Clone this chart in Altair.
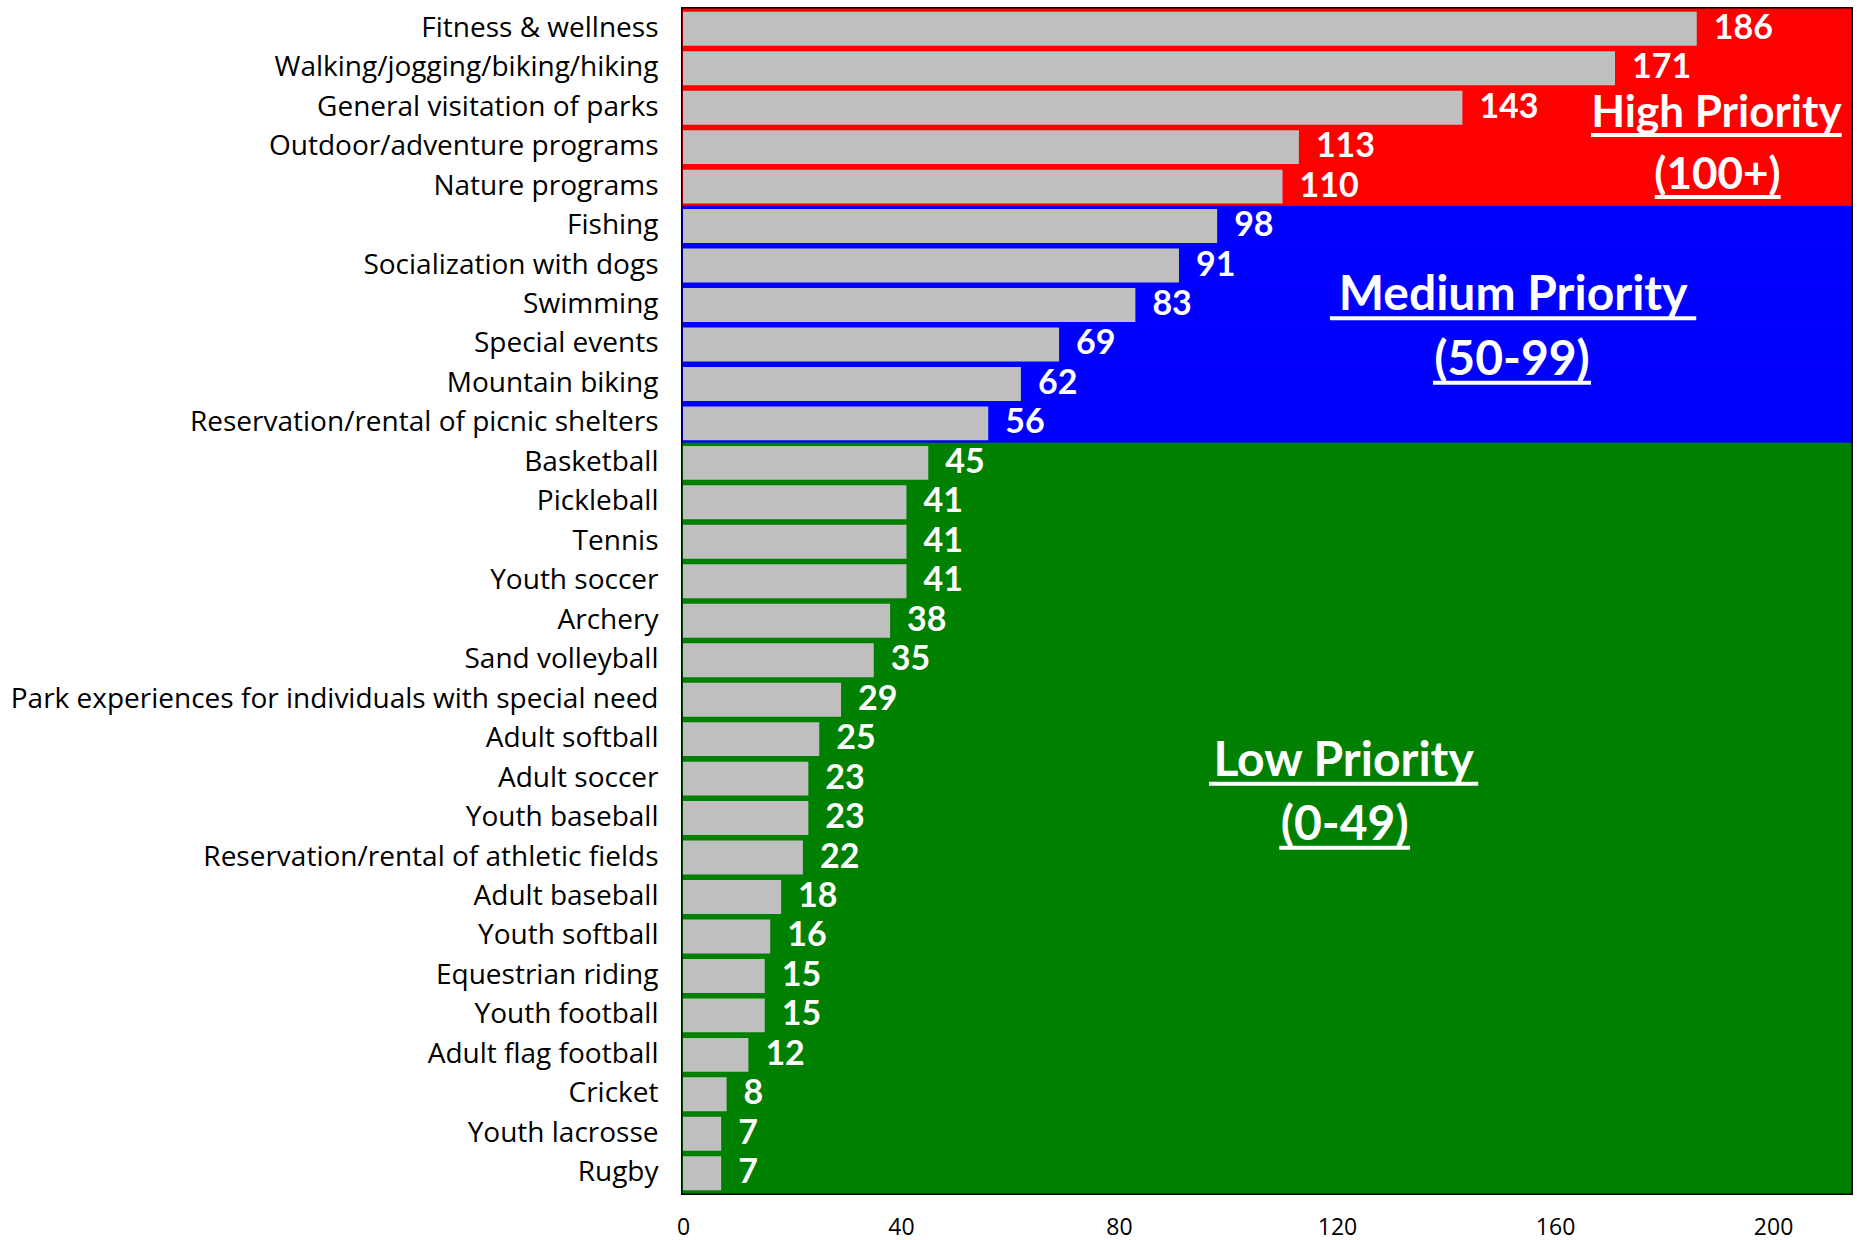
import altair as alt
import pandas as pd

# Activity names, top to bottom
activities = [
    "Fitness & wellness",
    "Walking/jogging/biking/hiking",
    "General visitation of parks",
    "Outdoor/adventure programs",
    "Nature programs",
    "Fishing",
    "Socialization with dogs",
    "Swimming",
    "Special events",
    "Mountain biking",
    "Reservation/rental of picnic shelters",
    "Basketball",
    "Pickleball",
    "Tennis",
    "Youth soccer",
    "Archery",
    "Sand volleyball",
    "Park experiences for individuals with special need",
    "Adult softball",
    "Adult soccer",
    "Youth baseball",
    "Reservation/rental of athletic fields",
    "Adult baseball",
    "Youth softball",
    "Equestrian riding",
    "Youth football",
    "Adult flag football",
    "Cricket",
    "Youth lacrosse",
    "Rugby",
]

# Priority scores
scores = [186, 171, 143, 113, 110, 98, 91, 83, 69, 62, 56, 45, 41, 41, 41,
          38, 35, 29, 25, 23, 23, 22, 18, 16, 15, 15, 12, 8, 7, 7]

tier_names = ["High", "Medium", "Low"]
tier_colors = ["#FF0000", "#0000FF", "#008000"]
x_ticks = [0, 40, 80, 120, 160, 200]


def tier(v):
    if v >= 100:
        return "High"
    if v >= 50:
        return "Medium"
    return "Low"


df = pd.DataFrame({"activity": activities, "score": scores})
df["tier"] = df["score"].map(tier)

# Band headings: text, centre (score units), baseline (row units), font size
note_text = ["High Priority", "(100+)", "Medium Priority", "(50-99)", "Low Priority", "(0-49)"]
note_x = [189.6, 189.8, 152.3, 152.1, 121.2, 121.4]
note_row = [2.99, 4.56, 7.63, 9.27, 19.43, 21.05]
note_size = [44, 44, 48, 48, 48, 48]
# underline extents (score units)
note_x0 = [166.6, 178.3, 118.7, 137.6, 96.5, 109.4]
note_x1 = [212.6, 201.4, 185.9, 166.6, 145.9, 133.4]

notes = pd.DataFrame({
    "label": note_text, "xc": note_x, "row": note_row, "fs": note_size,
    "x0": note_x0, "x1": note_x1,
})

AXIS_FONT = "Open Sans"
BOLD_FONT = "Lato"
x_scale = alt.Scale(domain=[0, 214.3], nice=False, zero=True)
x_axis = alt.Axis(
    title=None, values=x_ticks, ticks=False, domain=False, grid=False,
    labelFont=AXIS_FONT, labelFontSize=23, labelColor="black", labelPadding=23,
    labelFlush=False,
)
y_enc = alt.Y(
    "activity:N", sort=activities,
    scale=alt.Scale(paddingInner=0, paddingOuter=0, round=False),
    axis=alt.Axis(
        title=None, ticks=False, domain=False, grid=False, labelFont=AXIS_FONT,
        labelFontSize=28, labelColor="black", labelPadding=25, labelLimit=0,
    ),
)
tier_scale = alt.Scale(domain=tier_names, range=tier_colors)

base = alt.Chart(df)

background = base.mark_rect(strokeWidth=1).encode(
    y=y_enc,
    x=alt.value(0),
    x2=alt.value("width"),
    color=alt.Color("tier:N", scale=tier_scale, legend=None),
    stroke=alt.Stroke("tier:N", scale=tier_scale, legend=None),
)

bars = base.mark_bar(color="#BFBFBF", height=alt.RelativeBandSize(band=0.86)).encode(
    y=y_enc,
    x=alt.X("score:Q", scale=x_scale, axis=x_axis),
)

values = base.mark_text(
    align="left", baseline="middle", dx=17, font=BOLD_FONT, fontWeight="bold",
    fontSize=34, color="white",
).encode(
    y=y_enc,
    x=alt.X("score:Q", scale=x_scale, axis=x_axis),
    text="score:Q",
)

rows = alt.layer(background, bars, values)

row_scale = alt.Scale(domain=[0, 30], reverse=True, nice=False, zero=False)
note_base = alt.Chart(notes)

headings = note_base.mark_text(
    align="center", baseline="alphabetic", font=BOLD_FONT, fontWeight="bold", color="white",
).encode(
    x=alt.X("xc:Q", scale=x_scale, axis=x_axis),
    y=alt.Y("row:Q", scale=row_scale, axis=None),
    text="label:N",
    size=alt.Size("fs:Q", scale=None, legend=None),
)

underlines = note_base.mark_rule(color="white", strokeWidth=4, yOffset=8).encode(
    x=alt.X("x0:Q", scale=x_scale, axis=x_axis),
    x2="x1:Q",
    y=alt.Y("row:Q", scale=row_scale, axis=None),
)

annotations = alt.layer(headings, underlines)

chart = (
    alt.layer(rows, annotations)
    .resolve_scale(y="independent")
    .properties(
        width=1168, height=1184,
        autosize=alt.AutoSizeParams(type="none"),
        padding={"left": 683, "top": 9, "right": 6, "bottom": 47},
        background="white",
    )
    .configure_view(stroke="black", strokeWidth=4)
)

chart.save("out.html", embed_options={"renderer": "svg", "actions": False})
